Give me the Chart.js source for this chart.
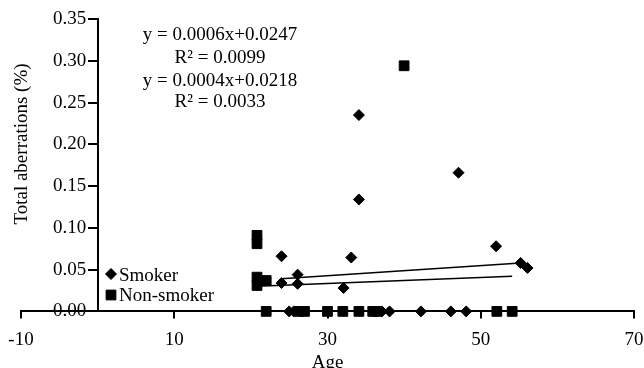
<!DOCTYPE html>
<html>
<head>
<meta charset="utf-8">
<script src="https://cdn.jsdelivr.net/npm/chart.js@4.4.1/dist/chart.umd.min.js"></script>
<style>
    html, body { margin: 0; padding: 0; background: #fff; }
    #wrap { width: 644px; height: 368px; }
</style>
</head>
<body>
<div id="wrap"><canvas id="myChart" width="644" height="368"></canvas></div>
<script>
// values: [age, total aberrations %]
var smokerAge = [24.0, 24.0, 26.1, 26.1, 32.1, 33.1, 34.1, 34.1, 47.1, 52.0, 55.2, 56.1,
    25.0, 25.6, 37.1, 38.1, 42.2, 46.1, 48.1];
var smokerVal = [0.066, 0.034, 0.044, 0.033, 0.028, 0.0645, 0.235, 0.134, 0.166, 0.078, 0.058, 0.052,
    0, 0, 0, 0, 0, 0, 0];

var nonSmokerAge = [20.8, 20.8, 20.8, 20.8, 22.0, 40.0,
    22.0, 26.2, 27.0, 30.0, 32.0, 34.1, 35.9, 36.5, 52.1, 54.1];
var nonSmokerVal = [0.091, 0.081, 0.041, 0.031, 0.037, 0.294,
    0, 0, 0, 0, 0, 0, 0, 0, 0, 0];

// trend line end points
var smokerTrendAge = [24.0, 55.2];
var smokerTrendVal = [0.039, 0.058];
var nonSmokerTrendAge = [20.8, 54.1];
var nonSmokerTrendVal = [0.030, 0.042];

var xTicks = [-10, 10, 30, 50, 70];
var yTicks = [0, 0.05, 0.10, 0.15, 0.20, 0.25, 0.30, 0.35];

var seriesNames = ['Smoker', 'Non-smoker'];
var trendLabels = ['y = 0.0006x+0.0247', 'R\u00B2 = 0.0099', 'y = 0.0004x+0.0218', 'R\u00B2 = 0.0033'];
var xTitle = 'Age';
var yTitle = 'Total aberrations (%)';

var FONT = '"Liberation Serif", "Times New Roman", serif';

function pairs(xs, ys) {
    return xs.map(function (x, i) { return { x: x, y: ys[i] }; });
}

function setYTicks(scale) {
    scale.ticks = yTicks.map(function (v) { return { value: v }; });
}

var notesPlugin = {
    id: 'notes',
    afterDraw: function (chart) {
        var c = chart.ctx;
        c.save();
        c.fillStyle = '#000';
        c.font = '19px ' + FONT;

        // regression equations
        c.textAlign = 'center';
        c.textBaseline = 'alphabetic';
        var lineY = [40, 63, 86, 107];
        trendLabels.forEach(function (t, i) {
            c.fillText(t, 220, lineY[i]);
        });

        // legend
        c.textAlign = 'left';
        Chart.helpers.drawPoint(c, { pointStyle: 'rectRot', radius: 5.5, borderWidth: 1 }, 111, 274);
        c.fillStyle = '#000';
        c.fillText(seriesNames[0], 119, 280.5);
        Chart.helpers.drawPoint(c, { pointStyle: 'rect', radius: 6.9, borderWidth: 1 }, 111, 295);
        c.fillStyle = '#000';
        c.fillText(seriesNames[1], 119, 301);

        // y axis title
        c.translate(27, 144);
        c.rotate(-Math.PI / 2);
        c.textAlign = 'center';
        c.fillText(yTitle, 0, 0);
        c.restore();
    }
};

var ctx = document.getElementById('myChart').getContext('2d');

new Chart(ctx, {
    type: 'scatter',
    data: {
        datasets: [{
            label: seriesNames[0],
            data: pairs(smokerAge, smokerVal),
            pointStyle: 'rectRot',
            pointRadius: 5.5,
            pointBorderWidth: 1,
            backgroundColor: '#000',
            borderColor: '#000',
            clip: false
        }, {
            label: seriesNames[1],
            data: pairs(nonSmokerAge, nonSmokerVal),
            pointStyle: 'rect',
            pointRadius: 6.9,
            pointBorderWidth: 1,
            backgroundColor: '#000',
            borderColor: '#000',
            clip: false
        }, {
            label: 'Smoker trend',
            data: pairs(smokerTrendAge, smokerTrendVal),
            showLine: true,
            pointRadius: 0,
            borderWidth: 1.5,
            borderColor: '#000',
            clip: false
        }, {
            label: 'Non-smoker trend',
            data: pairs(nonSmokerTrendAge, nonSmokerTrendVal),
            showLine: true,
            pointRadius: 0,
            borderWidth: 1.5,
            borderColor: '#000',
            clip: false
        }]
    },
    options: {
        responsive: false,
        animation: false,
        events: [],
        layout: {
            autoPadding: false,
            padding: { left: 21, right: 10, top: 19, bottom: 0 }
        },
        scales: {
            x: {
                type: 'linear',
                position: 'bottom',
                min: -10,
                max: 70,
                afterBuildTicks: function (scale) {
                    scale.ticks = xTicks.map(function (v) { return { value: v }; });
                },
                // labels may hang over the ends, don't shrink the plot for them
                afterFit: function (scale) {
                    scale.paddingLeft = 0;
                    scale.paddingRight = 0;
                },
                grid: {
                    drawOnChartArea: false,
                    drawTicks: true,
                    tickLength: 7,
                    color: '#000',
                    lineWidth: 2
                },
                border: { color: '#000', width: 2 },
                ticks: {
                    color: '#000',
                    padding: 10,
                    maxRotation: 0,
                    font: { family: FONT, size: 19 },
                    callback: function (v) { return String(v); }
                },
                title: {
                    display: true,
                    text: xTitle,
                    color: '#000',
                    font: { family: FONT, size: 19 },
                    padding: { top: -10, bottom: -6 }
                }
            },
            // axis line and tick marks, crossing x at 0
            y: {
                type: 'linear',
                position: { x: 0 },
                min: 0,
                max: 0.35,
                afterBuildTicks: setYTicks,
                grid: {
                    drawOnChartArea: false,
                    drawTicks: true,
                    tickLength: 9,
                    color: '#000',
                    lineWidth: 2
                },
                border: { color: '#000', width: 2 },
                ticks: { display: false }
            },
            // tick labels only, set a little left of the axis
            yLabels: {
                type: 'linear',
                axis: 'y',
                position: { x: -1.5 },
                min: 0,
                max: 0.35,
                afterBuildTicks: setYTicks,
                grid: { display: false },
                border: { display: false },
                ticks: {
                    color: '#000',
                    font: { family: FONT, size: 19 },
                    callback: function (v) { return Number(v).toFixed(2); }
                }
            }
        },
        plugins: {
            legend: { display: false },
            tooltip: { enabled: false },
            title: { display: false }
        }
    },
    plugins: [notesPlugin]
});
</script>
</body>
</html>
